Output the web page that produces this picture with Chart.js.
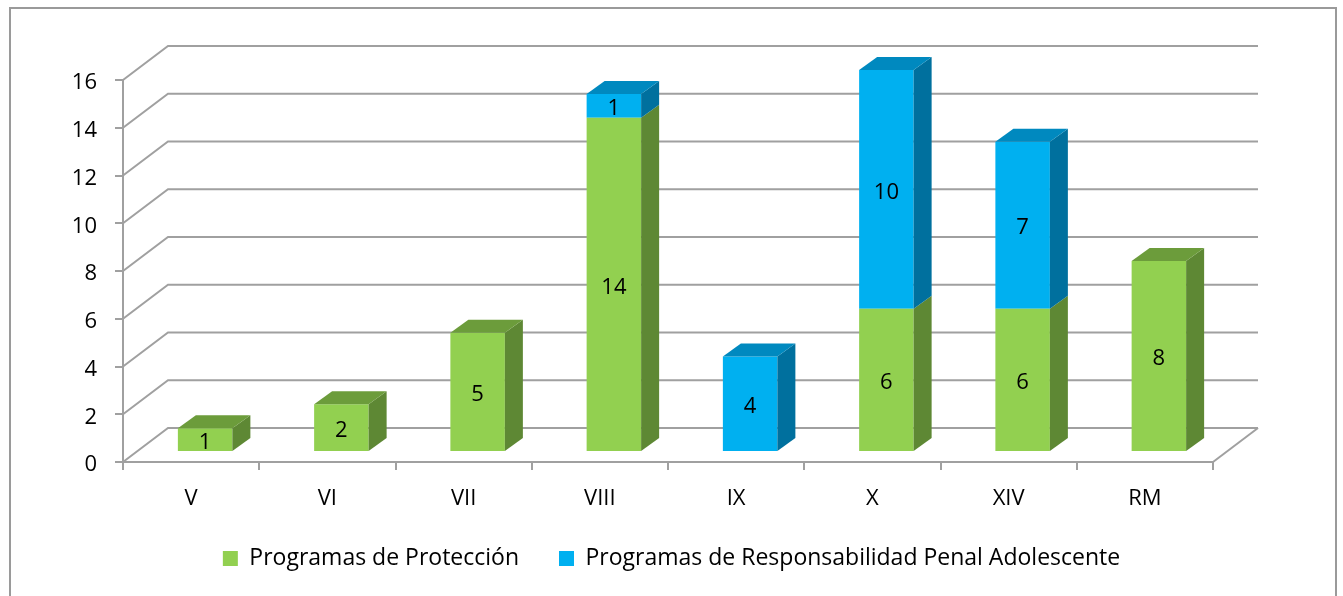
<!DOCTYPE html>
<html>
<head>
<meta charset="utf-8">
<script src="https://cdn.jsdelivr.net/npm/chart.js@4/dist/chart.umd.min.js"></script>
<style>
  body { margin: 0; background: #fff; }
  #wrap { width: 1343px; height: 596px; }
</style>
</head>
<body>
<div id="wrap"><canvas id="barChart" width="1343" height="596"></canvas></div>
<script>
var regiones = ["V", "VI", "VII", "VIII", "IX", "X", "XIV", "RM"];
var proteccion = [1, 2, 5, 14, 0, 6, 6, 8];
var responsabilidad = [0, 0, 0, 1, 4, 10, 7, 0];
var yTicks = [0, 2, 4, 6, 8, 10, 12, 14, 16];

var FONT = "'Open Sans', 'Noto Sans', sans-serif";
var wall = { dx: 45, dy: -34 };   // depth of the back wall
var shift = { dx: 14, dy: -10 };  // bars sit in the middle of the floor
var box = { dx: 18, dy: -13 };    // depth of each bar

var shades = [
  { front: "#92D050", side: "#5E8834", top: "#6C9C3B" },
  { front: "#00B0F0", side: "#00709E", top: "#0089BF" }
];

var depth3d = {
  id: "depth3d",
  beforeDraw: function (chart) {
    var ctx = chart.ctx;
    ctx.save();
    ctx.strokeStyle = "#9a9a9a";
    ctx.lineWidth = 2;
    ctx.strokeRect(10, 8, 1326, 640);
    ctx.restore();
  },
  beforeDatasetsDraw: function (chart) {
    var ctx = chart.ctx;
    var xs = chart.scales.x, ys = chart.scales.y;
    var left = xs.left, right = xs.right;
    ctx.save();
    ctx.strokeStyle = "#a0a0a0";
    ctx.lineWidth = 2;
    yTicks.forEach(function (v) {
      var y = ys.getPixelForValue(v);
      ctx.beginPath();
      ctx.moveTo(left, y);
      ctx.lineTo(left + wall.dx, y + wall.dy);
      ctx.lineTo(right + wall.dx, y + wall.dy);
      ctx.stroke();
    });
    // right edge of the floor
    var y0 = ys.getPixelForValue(0);
    ctx.beginPath();
    ctx.moveTo(right, y0);
    ctx.lineTo(right + wall.dx, y0 + wall.dy);
    ctx.stroke();
    ctx.restore();

    ctx.save();
    ctx.translate(shift.dx, shift.dy);
  },
  afterDatasetsDraw: function (chart) {
    var ctx = chart.ctx;
    var n = regiones.length;
    for (var i = 0; i < n; i++) {
      var topDs = -1;
      chart.data.datasets.forEach(function (ds, d) {
        if (ds.data[i] > 0) topDs = d;
      });
      chart.data.datasets.forEach(function (ds, d) {
        if (!(ds.data[i] > 0)) return;
        var el = chart.getDatasetMeta(d).data[i];
        var L = el.x - el.width / 2, R = el.x + el.width / 2;
        var T = Math.min(el.y, el.base), B = Math.max(el.y, el.base);
        ctx.fillStyle = shades[d].side;
        ctx.beginPath();
        ctx.moveTo(R, T);
        ctx.lineTo(R + box.dx, T + box.dy);
        ctx.lineTo(R + box.dx, B + box.dy);
        ctx.lineTo(R, B);
        ctx.closePath();
        ctx.fill();
        if (d === topDs) {
          ctx.fillStyle = shades[d].top;
          ctx.beginPath();
          ctx.moveTo(L, T);
          ctx.lineTo(L + box.dx, T + box.dy);
          ctx.lineTo(R + box.dx, T + box.dy);
          ctx.lineTo(R, T);
          ctx.closePath();
          ctx.fill();
        }
        ctx.fillStyle = "#000";
        ctx.font = "22px " + FONT;
        ctx.textAlign = "center";
        ctx.textBaseline = "middle";
        ctx.fillText(String(ds.data[i]), el.x, (T + B) / 2 + 3);
      });
    }
    ctx.restore();
  }
};

var ctx = document.getElementById("barChart").getContext("2d");
new Chart(ctx, {
  type: "bar",
  data: {
    labels: regiones,
    datasets: [
      {
        label: "Programas de Protección",
        data: proteccion,
        backgroundColor: shades[0].front,
        borderWidth: 0,
        clip: false
      },
      {
        label: "Programas de Responsabilidad Penal Adolescente",
        data: responsabilidad,
        backgroundColor: shades[1].front,
        borderWidth: 0,
        clip: false
      }
    ]
  },
  options: {
    responsive: false,
    devicePixelRatio: 1,
    animation: false,
    barPercentage: 0.4,
    categoryPercentage: 1,
    layout: { padding: { left: 0, top: 80, right: 0, bottom: 16 } },
    plugins: {
      tooltip: { enabled: false },
      legend: {
        position: "bottom",
        labels: {
          boxWidth: 15,
          boxHeight: 15,
          padding: 40,
          color: "#000",
          font: { family: FONT, size: 23 }
        }
      }
    },
    scales: {
      x: {
        stacked: true,
        grid: {
          offset: true,
          drawOnChartArea: false,
          drawTicks: true,
          tickLength: 8,
          color: "#a0a0a0",
          lineWidth: 2
        },
        border: { display: true, color: "#a0a0a0", width: 2 },
        ticks: { color: "#000", padding: 16, font: { family: FONT, size: 22 } },
        afterFit: function (s) {
          var leg = s.chart.legend ? s.chart.legend.height : 0;
          s.height = 596 - 16 - leg - 462;
        }
      },
      y: {
        stacked: true,
        min: 0,
        max: 16,
        grid: {
          drawOnChartArea: false,
          drawTicks: true,
          tickLength: 8,
          color: "#a0a0a0",
          lineWidth: 2
        },
        border: { display: true, color: "#a0a0a0", width: 2 },
        ticks: {
          stepSize: 2,
          color: "#000",
          padding: 18,
          labelOffset: 3,
          font: { family: FONT, size: 22 }
        },
        afterFit: function (s) {
          s.width = 123;
        }
      },
      // empty right margin so the legend centres on the whole canvas
      margen: {
        position: "right",
        display: true,
        grid: { display: false },
        border: { display: false },
        ticks: { display: false },
        afterFit: function (s) {
          s.width = 130;
        }
      }
    }
  },
  plugins: [depth3d]
});
</script>
</body>
</html>
